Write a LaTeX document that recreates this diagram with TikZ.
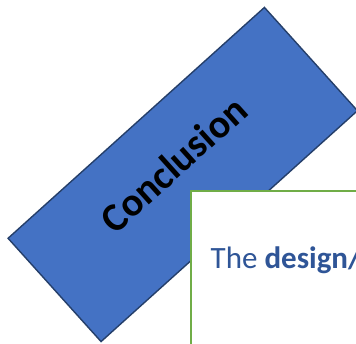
\documentclass[tikz,border=0pt]{standalone}
\usepackage{fontspec}
\setmainfont{Carlito}
\definecolor{boxblue}{HTML}{4472C4}
\definecolor{boxedge}{HTML}{253F6A}
\definecolor{panelgreen}{HTML}{70AD47}
\definecolor{textblue}{HTML}{2F5597}
\tikzset{
  conclbox/.style={draw=boxedge, fill=boxblue, line width=1.4pt, rectangle, inner sep=0pt},
  conclabel/.style={font=\bfseries\fontsize{40}{48}\selectfont, text=black, inner sep=0pt},
  panelbox/.style={draw=panelgreen, fill=white, line width=2pt, rectangle, inner sep=0pt},
  paneltext/.style={font=\fontsize{31}{37}\selectfont, text=textblue, inner sep=0pt}
}
\begin{document}
\begin{tikzpicture}[x=1pt,y=1pt]
\useasboundingbox (0,0) rectangle (356,-343);
\node[conclbox, minimum width=345pt, minimum height=139pt, rotate=42] (box) at (182.75,-174.5) {};
\node[conclabel, anchor=base, rotate=42] (lbl) at (box.center) {Conclusion};
\node[panelbox, anchor=north west, minimum width=200pt, minimum height=200pt] (panel) at (189.5,-190) {};
\node[paneltext, anchor=base west] (txt) at (210.5,-268) {The \textbf{design/}};
\end{tikzpicture}
\end{document}
